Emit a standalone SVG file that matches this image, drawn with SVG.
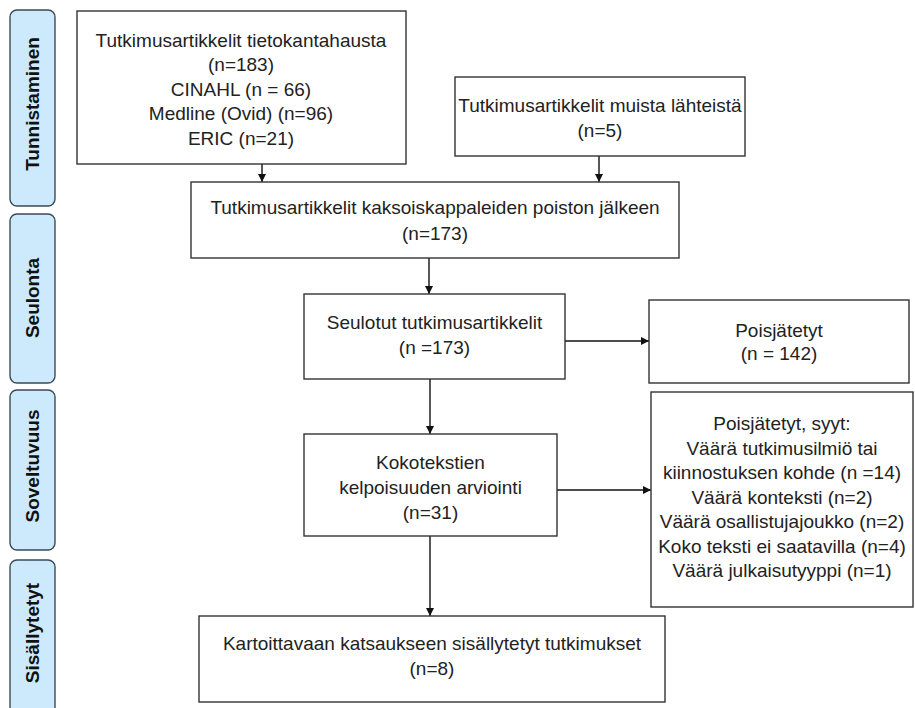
<svg xmlns="http://www.w3.org/2000/svg" width="915" height="708" viewBox="0 0 915 708">
<defs>
<style>
.box{fill:#fff;stroke:#333;stroke-width:1.4}
.bar{fill:#cde9fc;stroke:#3d4a55;stroke-width:1.4}
.t{font-family:"Liberation Sans",Arial,sans-serif;font-size:19px;fill:#222;text-anchor:middle}
.bt{font-family:"Liberation Sans",Arial,sans-serif;font-size:19px;font-weight:bold;fill:#111;text-anchor:middle}
.c{stroke:#111;stroke-width:1.4;fill:none;marker-end:url(#ah)}
</style>
<marker id="ah" markerWidth="8" markerHeight="8" refX="8" refY="4" orient="auto" markerUnits="userSpaceOnUse">
<path d="M0,0 L8,4 L0,8 Z" fill="#111"/>
</marker>
</defs>
<rect width="915" height="708" fill="#fff"/>
<g id="phase-tunnistaminen"><rect class="bar" x="10" y="10" width="45" height="196" rx="7"/><text class="bt" transform="translate(39,104) rotate(-90)">Tunnistaminen</text></g>
<g id="phase-seulonta"><rect class="bar" x="10" y="214" width="45" height="169" rx="7"/><text class="bt" transform="translate(39,298) rotate(-90)">Seulonta</text></g>
<g id="phase-soveltuvuus"><rect class="bar" x="10" y="390" width="45" height="160" rx="7"/><text class="bt" transform="translate(39,466) rotate(-90)">Soveltuvuus</text></g>
<g id="phase-sisallytetyt"><rect class="bar" x="10" y="560" width="45" height="170" rx="7"/><text class="bt" transform="translate(39,633) rotate(-90)">Sisällytetyt</text></g>
<g id="connectors">
<line class="c" x1="262" y1="164" x2="262" y2="182"/>
<line class="c" x1="599" y1="156" x2="599" y2="182"/>
<line class="c" x1="429" y1="258" x2="429" y2="294"/>
<line class="c" x1="565" y1="341" x2="649" y2="341"/>
<line class="c" x1="430" y1="379" x2="430" y2="434"/>
<line class="c" x1="557" y1="490" x2="651" y2="490"/>
<line class="c" x1="430" y1="536" x2="430" y2="616"/>
</g>
<g id="box-database"><rect class="box" x="77" y="11" width="329" height="153"/>
<text class="t" x="241" y="46.5">Tutkimusartikkelit tietokantahausta</text>
<text class="t" x="241" y="71">(n=183)</text>
<text class="t" x="241" y="95.5">CINAHL (n = 66)</text>
<text class="t" x="241" y="120">Medline (Ovid) (n=96)</text>
<text class="t" x="241" y="144.5">ERIC (n=21)</text></g>
<g id="box-other"><rect class="box" x="455" y="77" width="290" height="79"/>
<text class="t" x="600" y="111.5">Tutkimusartikkelit muista lähteistä</text>
<text class="t" x="600" y="136.5">(n=5)</text></g>
<g id="box-dedup"><rect class="box" x="191" y="182" width="488" height="76"/>
<text class="t" x="435" y="213.5">Tutkimusartikkelit kaksoiskappaleiden poiston jälkeen</text>
<text class="t" x="435" y="239.5">(n=173)</text></g>
<g id="box-screened"><rect class="box" x="304" y="294" width="261" height="85"/>
<text class="t" x="434.5" y="328.5">Seulotut tutkimusartikkelit</text>
<text class="t" x="434.5" y="353.5">(n =173)</text></g>
<g id="box-excluded1"><rect class="box" x="649" y="300" width="260" height="83"/>
<text class="t" x="779" y="336.5">Poisjätetyt</text>
<text class="t" x="779" y="359.5">(n = 142)</text></g>
<g id="box-fulltext"><rect class="box" x="304" y="434" width="253" height="102"/>
<text class="t" x="430.5" y="468.5">Kokotekstien</text>
<text class="t" x="430.5" y="493.5">kelpoisuuden arviointi</text>
<text class="t" x="430.5" y="518.5">(n=31)</text></g>
<g id="box-excluded2"><rect class="box" x="651" y="392" width="262" height="215"/>
<text class="t" x="782" y="430">Poisjätetyt, syyt:</text>
<text class="t" x="782" y="454.5">Väärä tutkimusilmiö tai</text>
<text class="t" x="782" y="479">kiinnostuksen kohde (n =14)</text>
<text class="t" x="782" y="503.5">Väärä konteksti (n=2)</text>
<text class="t" x="782" y="528">Väärä osallistujajoukko (n=2)</text>
<text class="t" x="782" y="552.5">Koko teksti ei saatavilla (n=4)</text>
<text class="t" x="782" y="577">Väärä julkaisutyyppi (n=1)</text></g>
<g id="box-included"><rect class="box" x="199" y="616" width="466" height="86"/>
<text class="t" x="432" y="649.5">Kartoittavaan katsaukseen sisällytetyt tutkimukset</text>
<text class="t" x="432" y="674.5">(n=8)</text></g>
</svg>
